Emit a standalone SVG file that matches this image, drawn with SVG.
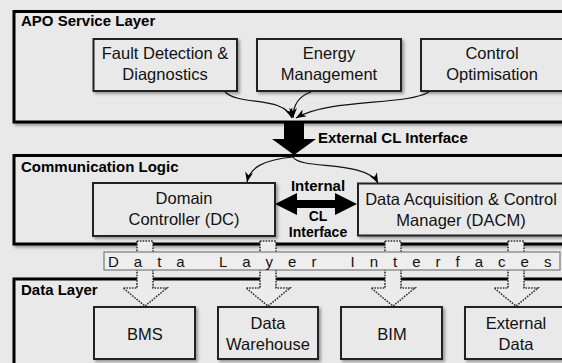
<svg xmlns="http://www.w3.org/2000/svg" width="562" height="363" viewBox="0 0 562 363">
<style>
.layer{fill:#e9e9e9;stroke:#000;stroke-width:3;filter:url(#sh)}
.box{fill:#e9e9e9;stroke:#222;stroke-width:2;filter:url(#sh)}
.t{font-family:"Liberation Sans",Arial,sans-serif;font-size:16.5px;fill:#111;text-anchor:middle}
.b{font-family:"Liberation Sans",Arial,sans-serif;font-size:15px;font-weight:bold;fill:#000}
.s{font-size:14px;text-anchor:middle}
.con{fill:none;stroke:#111;stroke-width:1.2;marker-end:url(#ah)}
.dot{fill:#ececec;stroke:#333;stroke-width:1.6;stroke-dasharray:1.6 1.2}
.bar{fill:#eeeeee;stroke:#7a7a7a;stroke-width:1.2}
.bt{font-family:"Liberation Sans",Arial,sans-serif;font-size:15px;fill:#111}
</style>
<defs>
<filter id="sh" x="-10%" y="-10%" width="130%" height="140%">
<feDropShadow dx="2" dy="2" stdDeviation="1.5" flood-color="#000" flood-opacity="0.35"/>
</filter>
<marker id="ah" markerUnits="userSpaceOnUse" markerWidth="11" markerHeight="8" refX="10" refY="4" orient="auto">
<path d="M0,0 L10,4 L0,8 L3,4 Z" fill="#000"/>
</marker>
</defs>
<rect width="562" height="363" fill="#e9e9e9"/>

<g id="apo-layer">
<rect class="layer" x="14" y="11.5" width="560" height="110.5"/>
<text class="b" x="21" y="26">APO Service Layer</text>
</g>
<g id="comm-layer">
<rect class="layer" x="14" y="155.5" width="560" height="88.5"/>
<text class="b" x="21" y="172">Communication Logic</text>
</g>
<g id="data-layer">
<rect class="layer" x="14" y="279" width="560" height="100"/>
<text class="b" x="21" y="295">Data Layer</text>
</g>

<g id="fdd">
<rect class="box" x="93.5" y="39" width="143.5" height="52"/>
<text class="t" x="165" y="59">Fault Detection &amp;</text>
<text class="t" x="165" y="80">Diagnostics</text>
</g>
<g id="energy">
<rect class="box" x="257" y="39" width="144" height="52"/>
<text class="t" x="329" y="59">Energy</text>
<text class="t" x="329" y="80">Management</text>
</g>
<g id="control">
<rect class="box" x="421" y="39" width="143" height="52"/>
<text class="t" x="492" y="59">Control</text>
<text class="t" x="492" y="80">Optimisation</text>
</g>
<g id="dc">
<rect class="box" x="93" y="183" width="182" height="53"/>
<text class="t" x="184" y="204">Domain</text>
<text class="t" x="184" y="225">Controller (DC)</text>
</g>
<g id="dacm">
<rect class="box" x="358" y="183.5" width="207" height="52"/>
<text class="t" x="461" y="205">Data Acquisition &amp; Control</text>
<text class="t" x="461" y="226">Manager (DACM)</text>
</g>
<g id="bms">
<rect class="box" x="94" y="307" width="101" height="52"/>
<text class="t" x="145" y="340">BMS</text>
</g>
<g id="dw">
<rect class="box" x="218" y="307" width="100" height="52"/>
<text class="t" x="268" y="329">Data</text>
<text class="t" x="268" y="350">Warehouse</text>
</g>
<g id="bim">
<rect class="box" x="341" y="307" width="101" height="52"/>
<text class="t" x="392" y="340">BIM</text>
</g>
<g id="ext">
<rect class="box" x="465" y="307" width="101" height="52"/>
<text class="t" x="516" y="329">External</text>
<text class="t" x="516" y="350">Data</text>
</g>

<g id="connectors">
<path class="con" d="M225,92 C240,106 284,96 292,118"/>
<path class="con" d="M311,92 C299,96 293,105 293,118"/>
<path class="con" d="M429,92 C405,106 330,98 296,118"/>
<polygon points="284,121 304,121 304,139 316,139 294,155 272,139 284,139" fill="#000"/>
<text class="b" x="318" y="143">External CL Interface</text>
<path class="con" d="M293,157 C262,160 250,168 247,182"/>
<path class="con" d="M293,157 C300,170 366,160 378,183"/>
<polygon points="275,204 297,193 297,200 335,200 335,193 357,204 335,215 335,208 297,208 297,215" fill="#000"/>
<text class="b" x="318" y="191" text-anchor="middle">Internal</text>
<text class="b s" x="318" y="221">CL</text>
<text class="b s" x="318" y="237">Interface</text>
<path class="dot" d="M137,241 L153,241 L153,288 L167,288 L145,306 L123,288 L137,288 Z"/>
<path class="dot" d="M260,241 L276,241 L276,288 L290,288 L268,306 L246,288 L260,288 Z"/>
<path class="dot" d="M385,241 L401,241 L401,288 L415,288 L393,306 L371,288 L385,288 Z"/>
<path class="dot" d="M508,241 L524,241 L524,288 L538,288 L516,306 L494,288 L508,288 Z"/>
</g>

<g id="dli">
<rect class="bar" x="104" y="252" width="456" height="18"/>
<text class="bt" x="108 133.8 157.2 176.3 199.7 218.9 242.2 265.6 288.1 311.4 331.4 350.6 369.8 393.1 412.3 435.6 455.6 474.8 498.1 520.6 544" y="267">Data Layer Interfaces</text>
</g>
</svg>
